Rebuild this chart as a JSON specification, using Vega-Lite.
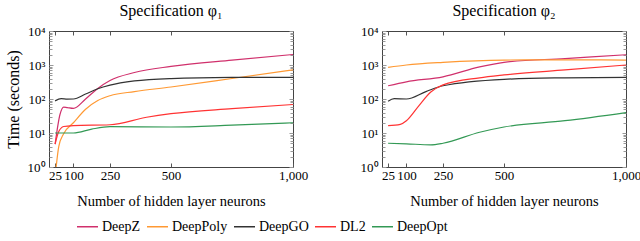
{
  "$schema": "https://vega.github.io/schema/vega-lite/v6.json",
  "padding": {"left": 4, "top": 2, "right": 8, "bottom": 2},
  "data": {"values": [
    {"p":1,"m":"DeepZ","n":25,"t":4.7},{"p":1,"m":"DeepZ","n":45,"t":35},{"p":1,"m":"DeepZ","n":60,"t":58},{"p":1,"m":"DeepZ","n":75,"t":56},{"p":1,"m":"DeepZ","n":100,"t":53},{"p":1,"m":"DeepZ","n":150,"t":100},{"p":1,"m":"DeepZ","n":200,"t":205},{"p":1,"m":"DeepZ","n":250,"t":350},{"p":1,"m":"DeepZ","n":350,"t":600},{"p":1,"m":"DeepZ","n":500,"t":910},{"p":1,"m":"DeepZ","n":750,"t":1400},{"p":1,"m":"DeepZ","n":1000,"t":2040},
    {"p":1,"m":"DeepPoly","n":25,"t":0.5},{"p":1,"m":"DeepPoly","n":40,"t":4},{"p":1,"m":"DeepPoly","n":60,"t":9.5},{"p":1,"m":"DeepPoly","n":100,"t":20},{"p":1,"m":"DeepPoly","n":150,"t":50},{"p":1,"m":"DeepPoly","n":200,"t":90},{"p":1,"m":"DeepPoly","n":250,"t":125},{"p":1,"m":"DeepPoly","n":350,"t":165},{"p":1,"m":"DeepPoly","n":500,"t":225},{"p":1,"m":"DeepPoly","n":750,"t":400},{"p":1,"m":"DeepPoly","n":1000,"t":720},
    {"p":1,"m":"DeepGO","n":25,"t":88},{"p":1,"m":"DeepGO","n":50,"t":102},{"p":1,"m":"DeepGO","n":75,"t":99},{"p":1,"m":"DeepGO","n":100,"t":100},{"p":1,"m":"DeepGO","n":150,"t":140},{"p":1,"m":"DeepGO","n":200,"t":200},{"p":1,"m":"DeepGO","n":250,"t":255},{"p":1,"m":"DeepGO","n":350,"t":340},{"p":1,"m":"DeepGO","n":500,"t":400},{"p":1,"m":"DeepGO","n":750,"t":430},{"p":1,"m":"DeepGO","n":1000,"t":435},
    {"p":1,"m":"DL2","n":25,"t":4.7},{"p":1,"m":"DL2","n":40,"t":11},{"p":1,"m":"DL2","n":60,"t":15.5},{"p":1,"m":"DL2","n":100,"t":16.5},{"p":1,"m":"DL2","n":250,"t":17.5},{"p":1,"m":"DL2","n":400,"t":29},{"p":1,"m":"DL2","n":500,"t":37},{"p":1,"m":"DL2","n":750,"t":52},{"p":1,"m":"DL2","n":1000,"t":69},
    {"p":1,"m":"DeepOpt","n":25,"t":10},{"p":1,"m":"DeepOpt","n":100,"t":10},{"p":1,"m":"DeepOpt","n":175,"t":13},{"p":1,"m":"DeepOpt","n":250,"t":15.3},{"p":1,"m":"DeepOpt","n":500,"t":15},{"p":1,"m":"DeepOpt","n":750,"t":17},{"p":1,"m":"DeepOpt","n":1000,"t":20},
    {"p":2,"m":"DeepZ","n":25,"t":245},{"p":2,"m":"DeepZ","n":100,"t":320},{"p":2,"m":"DeepZ","n":250,"t":450},{"p":2,"m":"DeepZ","n":400,"t":880},{"p":2,"m":"DeepZ","n":500,"t":1200},{"p":2,"m":"DeepZ","n":750,"t":1550},{"p":2,"m":"DeepZ","n":1000,"t":2000},
    {"p":2,"m":"DeepPoly","n":25,"t":850},{"p":2,"m":"DeepPoly","n":100,"t":1000},{"p":2,"m":"DeepPoly","n":250,"t":1200},{"p":2,"m":"DeepPoly","n":500,"t":1400},{"p":2,"m":"DeepPoly","n":750,"t":1420},{"p":2,"m":"DeepPoly","n":1000,"t":1400},
    {"p":2,"m":"DeepGO","n":25,"t":86},{"p":2,"m":"DeepGO","n":50,"t":102},{"p":2,"m":"DeepGO","n":100,"t":100},{"p":2,"m":"DeepGO","n":180,"t":165},{"p":2,"m":"DeepGO","n":250,"t":245},{"p":2,"m":"DeepGO","n":500,"t":380},{"p":2,"m":"DeepGO","n":750,"t":420},{"p":2,"m":"DeepGO","n":1000,"t":435},
    {"p":2,"m":"DL2","n":25,"t":16.5},{"p":2,"m":"DL2","n":75,"t":18},{"p":2,"m":"DL2","n":100,"t":23},{"p":2,"m":"DL2","n":150,"t":62},{"p":2,"m":"DL2","n":200,"t":160},{"p":2,"m":"DL2","n":250,"t":260},{"p":2,"m":"DL2","n":400,"t":420},{"p":2,"m":"DL2","n":500,"t":510},{"p":2,"m":"DL2","n":750,"t":720},{"p":2,"m":"DL2","n":1000,"t":1000},
    {"p":2,"m":"DeepOpt","n":25,"t":5},{"p":2,"m":"DeepOpt","n":100,"t":4.8},{"p":2,"m":"DeepOpt","n":200,"t":4.5},{"p":2,"m":"DeepOpt","n":250,"t":5},{"p":2,"m":"DeepOpt","n":400,"t":10.5},{"p":2,"m":"DeepOpt","n":500,"t":15},{"p":2,"m":"DeepOpt","n":750,"t":23},{"p":2,"m":"DeepOpt","n":1000,"t":40}
  ]},
  "spacing": 50,
  "hconcat": [
    {
      "title": "Specification φ₁",
      "width": 244, "height": 136,
      "transform": [{"filter": "datum.p == 1"}],
      "layer": [
        {
          "mark": {"type": "line", "interpolate": "monotone", "clip": true, "strokeWidth": 1.2},
          "encoding": {
            "x": {"field": "n", "type": "quantitative", "scale": {"domain": [0, 1000]},
                  "axis": {"orient": "bottom", "values": [25, 100, 250, 500, 1000], "labelExpr": "datum.value == 1000 ? '1,000' : '' + datum.value", "labelOverlap": false, "labelFlush": false, "title": "Number of hidden layer neurons"}},
            "y": {"field": "t", "type": "quantitative", "scale": {"type": "log", "domain": [1, 10000]},
                  "axis": {"orient": "left", "title": "Time (seconds)"}},
            "color": {"field": "m", "type": "nominal",
                      "scale": {"domain": ["DeepZ", "DeepPoly", "DeepGO", "DL2", "DeepOpt"], "range": ["#d0306c", "#ff9933", "#333333", "#ff3333", "#339955"]},
                      "legend": {"title": null}}
          }
        },
        {
          "mark": {"type": "line", "opacity": 0},
          "encoding": {
            "x": {"field": "n", "type": "quantitative", "axis": {"orient": "top", "values": [25, 100, 250, 500, 1000], "labels": false, "title": null, "grid": false}},
            "y": {"field": "t", "type": "quantitative", "axis": {"orient": "right", "labels": false, "title": null, "grid": false}},
            "detail": {"field": "m"}
          }
        }
      ],
      "resolve": {"axis": {"x": "independent", "y": "independent"}}
    },
    {
      "title": "Specification φ₂",
      "width": 244, "height": 136,
      "transform": [{"filter": "datum.p == 2"}],
      "layer": [
        {
          "mark": {"type": "line", "interpolate": "monotone", "clip": true, "strokeWidth": 1.2},
          "encoding": {
            "x": {"field": "n", "type": "quantitative", "scale": {"domain": [0, 1000]},
                  "axis": {"orient": "bottom", "values": [25, 100, 250, 500, 1000], "labelExpr": "datum.value == 1000 ? '1,000' : '' + datum.value", "labelOverlap": false, "labelFlush": false, "title": "Number of hidden layer neurons"}},
            "y": {"field": "t", "type": "quantitative", "scale": {"type": "log", "domain": [1, 10000]},
                  "axis": {"orient": "left", "title": null}},
            "color": {"field": "m", "type": "nominal",
                      "scale": {"domain": ["DeepZ", "DeepPoly", "DeepGO", "DL2", "DeepOpt"], "range": ["#d0306c", "#ff9933", "#333333", "#ff3333", "#339955"]},
                      "legend": {"title": null}}
          }
        },
        {
          "mark": {"type": "line", "opacity": 0},
          "encoding": {
            "x": {"field": "n", "type": "quantitative", "axis": {"orient": "top", "values": [25, 100, 250, 500, 1000], "labels": false, "title": null, "grid": false}},
            "y": {"field": "t", "type": "quantitative", "axis": {"orient": "right", "labels": false, "title": null, "grid": false}},
            "detail": {"field": "m"}
          }
        }
      ],
      "resolve": {"axis": {"x": "independent", "y": "independent"}}
    }
  ],
  "config": {
    "font": "Liberation Serif",
    "view": {"stroke": "#444444", "strokeWidth": 1},
    "title": {"font": "Liberation Serif", "fontSize": 16, "fontWeight": "normal", "color": "black", "offset": 6},
    "axis": {
      "domain": false,
      "labelFont": "Liberation Serif", "labelFontSize": 13, "labelColor": "black",
      "titleFont": "Liberation Serif", "titleFontSize": 14.5, "titleFontWeight": "normal", "titleColor": "black",
      "tickColor": "#555555", "tickSize": -4, "labelPadding": 8, "grid": false
    },
    "axisX": {"titlePadding": 12, "labelPadding": 6},
    "axisY": {
      "values": [1,2,3,4,5,6,7,8,9,10,20,30,40,50,60,70,80,90,100,200,300,400,500,600,700,800,900,1000,2000,3000,4000,5000,6000,7000,8000,9000,10000],
      "labelExpr": "datum.value==1?'10⁰':datum.value==10?'10¹':datum.value==100?'10²':datum.value==1000?'10³':datum.value==10000?'10⁴':''",
      "labelOverlap": false,
      "tickSize": {"condition": {"test": "indexof([1,10,100,1000,10000], datum.value) >= 0", "value": -4}, "value": -3},
      "tickColor": "#999999",
      "grid": true, "gridColor": "#bbbbbb", "gridDash": [5, 4],
      "gridOpacity": {"condition": {"test": "datum.value==10||datum.value==100||datum.value==1000", "value": 1}, "value": 0},
      "titleFontSize": 16,
      "titlePadding": 6
    },
    "legend": {
      "orient": "none", "legendX": 27, "legendY": 184, "direction": "horizontal",
      "symbolType": "stroke", "symbolStrokeWidth": 1.5, "symbolSize": 441,
      "labelFont": "Liberation Serif", "labelFontSize": 14, "labelColor": "black", "columnPadding": 3, "labelOffset": 3
    }
  }
}
